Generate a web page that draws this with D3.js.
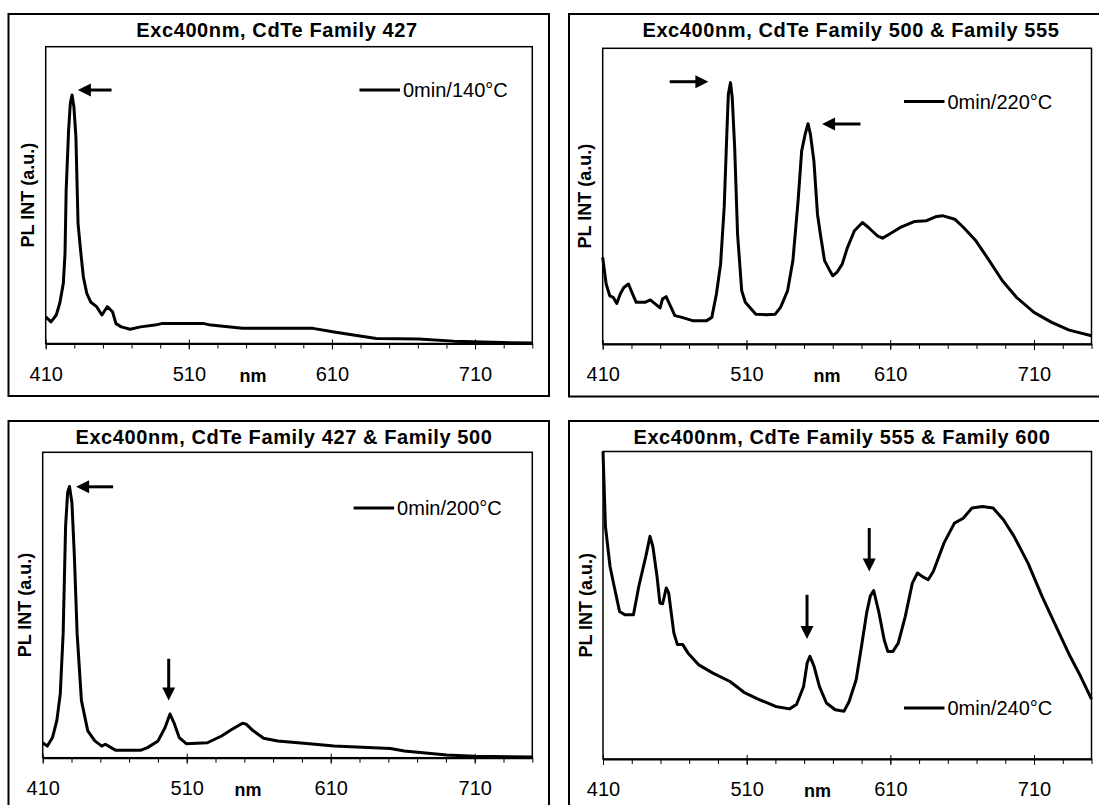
<!DOCTYPE html>
<meta charset="utf-8">
<style>

body {
  margin: 0;
  background: #fff;
}

text {
  font-family: "Liberation Sans", Arial, sans-serif;
  fill: #000;
}

.frame {
  fill: none;
  stroke: #000;
  stroke-width: 2px;
}

.plotbox {
  fill: none;
  stroke: #000;
  stroke-width: 1.5px;
}

.axis .domain {
  stroke: #000;
  stroke-width: 2px;
}

.spectrum {
  fill: none;
  stroke: #000;
  stroke-width: 3px;
  stroke-linejoin: round;
}

.title {
  font-size: 20px;
  font-weight: bold;
  letter-spacing: 0.6px;
  text-anchor: middle;
}

.ylabel, .xlabel {
  font-size: 18px;
  font-weight: bold;
  text-anchor: middle;
}

.ticklabels text, .legend {
  font-size: 20px;
}

</style>
<body>
<script src="https://d3js.org/d3.v7.min.js"></script>
<script>

var titles = [
  "Exc400nm, CdTe Family 427",
  "Exc400nm, CdTe Family 500 & Family 555",
  "Exc400nm, CdTe Family 427 & Family 500",
  "Exc400nm, CdTe Family 555 & Family 600"
];

var legendLabels = ["0min/140°C", "0min/220°C", "0min/200°C", "0min/240°C"];

var majorTicks = [410, 510, 610, 710];
var xDomain = [410, 750];

// [nm, PL intensity a.u.]
var spec140 = [
  [410, 9.0], [413.7, 7.3], [417.4, 9.6], [419.8, 13.5], [422.3, 20.2], [423.5, 30.3],
  [424.3, 51.7], [426, 71.9], [427.2, 80.9], [428.4, 83.7], [429.7, 79.8], [431.1, 69.7],
  [432.6, 40.4], [434.6, 30.3], [436.3, 22.5], [438.7, 16.9], [441.4, 14.0], [445.6, 12.4],
  [449.3, 9.6], [453, 12.4], [456.7, 10.7], [459.1, 6.7], [462.8, 5.6], [469, 4.8],
  [476.3, 5.6], [486.2, 6.2], [491, 6.7], [520.6, 6.7], [525.4, 6.2], [547.6, 5.1],
  [596.7, 5.1], [611.5, 3.9], [626.2, 2.8], [641, 1.7], [670.5, 1.5], [695, 0.8],
  [729.4, 0.3], [750, 0.2]
];

var spec220 = [
  [410, 29.3], [412.4, 20.3], [414.9, 16.3], [417.3, 15.8], [419.8, 13.7], [422.2, 16.9],
  [424.7, 19.1], [427.9, 20.3], [430.8, 16.9], [433.3, 14.1], [439.4, 14.1], [443.1, 14.9],
  [446.7, 13.5], [449.9, 12.2], [451.6, 15.2], [454.1, 16.0], [456.5, 13.5], [460.2, 9.6],
  [465.1, 9.0], [472.5, 7.9], [482.3, 7.9], [485.9, 9.0], [489.1, 16.9], [492, 27.0],
  [494.5, 46.2], [496.5, 73.2], [497.4, 84.5], [498.9, 88.4], [500.1, 83.3], [501.8, 66.4],
  [503.8, 37.2], [505.5, 25.9], [506.7, 18.0], [509.2, 14.1], [516.5, 10.1], [523.9, 9.9],
  [530, 10.1], [533.7, 12.4], [538.6, 18.0], [542.3, 28.2], [545.9, 48.4], [548.4, 65.3],
  [550.8, 70.9], [552.8, 74.5], [554.5, 70.9], [556.9, 61.9], [559.4, 43.9], [561.4, 37.2],
  [564.3, 28.2], [568, 24.8], [570, 23.1], [572.9, 24.2], [576.6, 27.0], [580.3, 32.7],
  [585.1, 38.3], [590.7, 41.1], [594.9, 39.4], [601, 36.6], [604.7, 35.8], [609.6, 37.2],
  [617, 39.4], [626.7, 41.4], [635.3, 41.7], [641.4, 43.0], [646.3, 43.4], [654.9, 42.2],
  [661, 39.4], [669.6, 34.9], [678.2, 28.7], [688, 21.4], [697.8, 15.8], [710, 10.7],
  [722.3, 7.3], [734.5, 4.7], [750, 2.8]
];

var spec200 = [
  [410, 4.9], [413.2, 3.8], [416.8, 6.6], [419.8, 12.1], [422.2, 20.9], [424.2, 40.7],
  [425.9, 75.8], [427.3, 86.8], [428.6, 88.8], [430.3, 83.5], [432, 65.9], [433.9, 40.7],
  [436.9, 18.7], [441.3, 8.8], [446.2, 5.5], [451, 3.8], [453.5, 4.4], [460.8, 2.4],
  [477.9, 2.4], [482.8, 3.3], [490.1, 5.5], [495, 9.9], [498.4, 14.3], [501.1, 11.5],
  [504.8, 6.6], [509.7, 4.6], [524.4, 4.9], [534.2, 7.1], [541.5, 9.3], [548.8, 11.3],
  [551.3, 11.0], [556.2, 8.8], [563.4, 6.4], [573.2, 5.5], [595.2, 4.6], [612.3, 3.8],
  [651.4, 3.0], [661.2, 2.2], [690.5, 0.9], [710, 0.5], [750, 0.2]
];

var spec240 = [
  [410, 100], [411.7, 75.6], [414.9, 62.6], [417.8, 56.1], [421.5, 48.0], [425.2, 46.9],
  [431.2, 46.9], [434.9, 56.1], [439.8, 65.9], [442.7, 72.4], [444.7, 69.1], [447.6, 59.4],
  [449.6, 50.7], [451.5, 50.5], [454, 55.6], [455.7, 54.0], [459.3, 41.0], [461.8, 37.2],
  [465.5, 37.2], [469.1, 34.5], [476.4, 30.7], [486.2, 28.0], [498.4, 25.2], [508.1, 21.7],
  [517.9, 19.5], [530.1, 17.1], [539.8, 16.3], [544.7, 17.7], [549.6, 23.6], [552.1, 31.2],
  [554, 33.4], [556.9, 30.1], [560.6, 23.6], [565.5, 18.2], [571.6, 16.0], [577.7, 15.5],
  [581.3, 18.7], [586.2, 25.8], [589.9, 36.6], [593.5, 47.5], [596, 52.9], [598.4, 54.8],
  [602.1, 47.5], [605.7, 38.8], [608.2, 35.0], [611.8, 35.0], [615.5, 37.7], [620.4, 46.4],
  [625.3, 57.2], [628.9, 60.5], [632.1, 59.4], [636.3, 58.3], [639.9, 61.0], [647.3, 70.2],
  [654.6, 76.7], [660.7, 78.3], [666.8, 81.6], [674.1, 82.1], [681.5, 81.6], [688.7, 77.8],
  [696.1, 72.4], [705.8, 63.7], [715.6, 52.9], [725.3, 43.1], [735.1, 33.4], [742.4, 26.9],
  [750, 19.5]
];

// arrows: [tail nm, tail a.u., tip nm, tip a.u.]
var arrows140 = [[456, 85.4, 432.5, 85.4]];
var arrows220 = [[456.6, 88.7, 483.5, 88.7], [589.3, 74.4, 562.6, 74.4]];
var arrows200 = [[458.9, 88.7, 433.2, 88.7], [497.5, 32.4, 497.5, 18.7]];
var arrows240 = [[552, 53.4, 552, 39], [595.3, 75.1, 595.3, 61]];

var spectra = [spec140, spec220, spec200, spec240];
var arrows = [arrows140, arrows220, arrows200, arrows240];

var layout = [
  {fx: 8.5, fy: 14, fw: 540.5, fh: 382, l: 45.7, t: 46.7, r: 532.3, b: 343.5, tx: 277, lx: 359.5, ly: 90, nx: 253},
  {fx: 569, fy: 14, fw: 539, fh: 382.5, l: 602.7, t: 48.3, r: 1091.5, b: 344, tx: 851, lx: 904, ly: 101.5, nx: 827},
  {fx: 8.5, fy: 421, fw: 540.5, fh: 392, l: 42.7, t: 452.3, r: 532.3, b: 757.7, tx: 284, lx: 353.6, ly: 508, nx: 248},
  {fx: 569, fy: 421, fw: 539, fh: 392, l: 603, t: 451.5, r: 1091.5, b: 759, tx: 842, lx: 904, ly: 708, nx: 817.5}
];

var width = 1099,
    height = 805;

var svg = d3.select("body").append("svg")
    .attr("width", width)
    .attr("height", height);

layout.forEach(function(L, i) {
  var g = svg.append("g");

  var x = d3.scaleLinear().domain(xDomain).range([L.l, L.r]);
  var y = d3.scaleLinear().domain([0, 100]).range([L.b, L.t]);

  g.append("rect")
      .attr("class", "frame")
      .attr("x", L.fx)
      .attr("y", L.fy)
      .attr("width", L.fw)
      .attr("height", L.fh);

  g.append("text")
      .attr("class", "title")
      .attr("x", L.tx)
      .attr("y", L.fy + 23)
      .text(titles[i]);

  g.append("rect")
      .attr("class", "plotbox")
      .attr("x", L.l)
      .attr("y", L.t)
      .attr("width", L.r - L.l)
      .attr("height", L.b - L.t);

  // minor ticks + axis line
  g.append("g")
      .attr("class", "axis")
      .attr("transform", "translate(0," + L.b + ")")
      .call(d3.axisBottom(x)
        .tickValues(d3.range(410, 751, 20))
        .tickSize(5)
        .tickSizeOuter(0)
        .tickFormat(""));

  // major ticks cross the axis
  g.append("g")
      .attr("class", "ticklabels")
      .attr("transform", "translate(0," + (L.b - 4) + ")")
      .call(d3.axisBottom(x)
        .tickValues(majorTicks)
        .tickSize(10)
        .tickPadding(17)
        .tickFormat(d3.format("d")))
      .call(function(a) { a.select(".domain").remove(); });

  g.append("text")
      .attr("class", "xlabel")
      .attr("x", L.nx)
      .attr("y", L.b + 38)
      .text("nm");

  g.append("text")
      .attr("class", "ylabel")
      .attr("transform", "translate(" + (L.l - 11.5) + "," + ((L.t + L.b) / 2) + ") rotate(-90)")
      .text("PL INT (a.u.)");

  var line = d3.line()
      .x(function(d) { return x(d[0]); })
      .y(function(d) { return y(d[1]); });

  g.append("path")
      .datum(spectra[i])
      .attr("class", "spectrum")
      .attr("d", line);

  // legend
  g.append("line")
      .attr("x1", L.lx)
      .attr("x2", L.lx + 40.5)
      .attr("y1", L.ly)
      .attr("y2", L.ly)
      .attr("stroke", "#000")
      .attr("stroke-width", 3);

  g.append("text")
      .attr("class", "legend")
      .attr("x", L.lx + 43.5)
      .attr("y", L.ly + 7)
      .text(legendLabels[i]);

  arrows[i].forEach(function(a) {
    var x1 = x(a[0]), y1 = y(a[1]), x2 = x(a[2]), y2 = y(a[3]);
    var dx = x2 - x1, dy = y2 - y1, len = Math.sqrt(dx * dx + dy * dy);
    var ux = dx / len, uy = dy / len;
    var hl = 13, hw = 6.5;
    var bx = x2 - ux * hl, by = y2 - uy * hl;

    g.append("line")
        .attr("x1", x1)
        .attr("y1", y1)
        .attr("x2", bx + ux)
        .attr("y2", by + uy)
        .attr("stroke", "#000")
        .attr("stroke-width", 3);

    g.append("path")
        .attr("d", "M" + x2 + "," + y2 +
                   "L" + (bx - uy * hw) + "," + (by + ux * hw) +
                   "L" + (bx + uy * hw) + "," + (by - ux * hw) + "Z")
        .attr("fill", "#000");
  });
});

</script>
